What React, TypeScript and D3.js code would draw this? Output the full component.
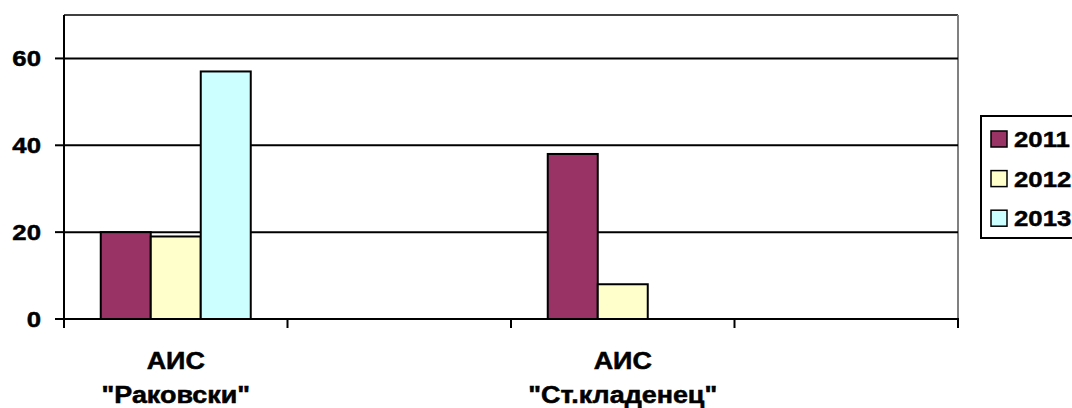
import React from "react";
import * as d3 from "d3";

// Stations (every second slot on the axis is left without a label)
const categories = ['АИС\n"Раковски"', "", 'АИС\n"Ст.кладенец"', ""];
const years = ["2011", "2012", "2013"];
const values2011: (number | null)[] = [20, null, 38, null];
const values2012: (number | null)[] = [19, null, 8, null];
const values2013: (number | null)[] = [57, null, null, null];
const yTicks = [0, 20, 40, 60];
const yMax = 70;

const seriesColors = ["#993366", "#FFFFCC", "#CCFFFF"];
const series = [values2011, values2012, values2013];

const W = 1072;
const H = 408;
const plot = { left: 64, right: 958, top: 15, bottom: 319 };
const font = "'Liberation Sans', Arial, Helvetica, sans-serif";

export default function App() {
  const x = d3
    .scaleBand<number>()
    .domain(categories.map((_, i) => i))
    .range([plot.left, plot.right])
    .paddingInner(0)
    .paddingOuter(0);
  const xInner = d3
    .scaleBand<string>()
    .domain(years)
    .range([0, x.bandwidth()])
    .paddingInner(0)
    .paddingOuter(0.735);
  const y = d3.scaleLinear().domain([0, yMax]).range([plot.bottom, plot.top]);

  const tickEdges = d3.range(categories.length + 1).map((i) =>
    i < categories.length ? (x(i) as number) : plot.right
  );

  const Label = ({
    tx,
    ty,
    anchor,
    children,
    baseline,
    stretch = 1.12,
  }: {
    tx: number;
    ty: number;
    anchor: "start" | "middle" | "end";
    baseline?: string;
    stretch?: number;
    children: React.ReactNode;
  }) => (
    <g transform={`translate(${tx},${ty}) scale(${stretch},1)`}>
      <text
        x={0}
        y={0}
        textAnchor={anchor}
        dominantBaseline={baseline}
        fontFamily={font}
        fontWeight="bold"
        fontSize={23}
        fill="#000"
        stroke="#000"
        strokeWidth={0.5}
      >
        {children}
      </text>
    </g>
  );

  return (
    <svg
      width={W}
      height={H}
      style={{ position: "absolute", left: 0, top: 0, background: "#fff" }}
    >
      {/* plot frame: top edge and right edge */}
      <line x1={plot.left} x2={plot.right} y1={plot.top} y2={plot.top} stroke="#000" strokeWidth={1.3} />
      <line x1={plot.right} x2={plot.right} y1={plot.top} y2={plot.bottom} stroke="#808080" strokeWidth={2} />

      {/* horizontal gridlines */}
      {yTicks
        .filter((t) => t > 0)
        .map((t) => (
          <line key={t} x1={plot.left} x2={plot.right} y1={y(t)} y2={y(t)} stroke="#000" strokeWidth={2} />
        ))}

      {/* bars */}
      {series.map((vals, si) =>
        vals.map((v, ci) =>
          v == null ? null : (
            <rect
              key={`${si}-${ci}`}
              x={(x(ci) as number) + (xInner(years[si]) as number)}
              y={y(v)}
              width={xInner.bandwidth()}
              height={y(0) - y(v)}
              fill={seriesColors[si]}
              stroke="#000"
              strokeWidth={2}
            />
          )
        )
      )}

      {/* value axis */}
      <line x1={plot.left} x2={plot.left} y1={plot.top} y2={plot.bottom + 1} stroke="#000" strokeWidth={2} />
      {yTicks.map((t) => (
        <g key={t}>
          <line x1={plot.left - 9} x2={plot.left} y1={y(t)} y2={y(t)} stroke="#000" strokeWidth={2} />
          <Label tx={41} ty={y(t)} anchor="end" baseline="central">
            {t}
          </Label>
        </g>
      ))}

      {/* category axis */}
      <line x1={plot.left - 9} x2={plot.right + 1} y1={plot.bottom} y2={plot.bottom} stroke="#000" strokeWidth={2} />
      {tickEdges.map((tx, i) => (
        <line key={i} x1={tx} x2={tx} y1={plot.bottom} y2={plot.bottom + 9} stroke="#000" strokeWidth={2} />
      ))}
      {categories.map((c, i) => {
        const cx = (x(i) as number) + x.bandwidth() / 2;
        return c
          .split("\n")
          .filter((s) => s.length > 0)
          .map((line, li) => (
            <Label key={`${i}-${li}`} tx={cx} ty={369 + li * 34} anchor="middle" stretch={1.17}>
              {line}
            </Label>
          ));
      })}

      {/* legend */}
      <rect x={981} y={116} width={110} height={122} fill="#fff" stroke="#000" strokeWidth={2} />
      {years.map((yr, i) => {
        const cy = 139 + i * 39.6;
        return (
          <g key={yr}>
            <rect x={991} y={cy - 8} width={16} height={16} fill={seriesColors[i]} stroke="#000" strokeWidth={1.5} />
            <Label tx={1014} ty={cy} anchor="start" baseline="central">
              {yr}
            </Label>
          </g>
        );
      })}
    </svg>
  );
}
